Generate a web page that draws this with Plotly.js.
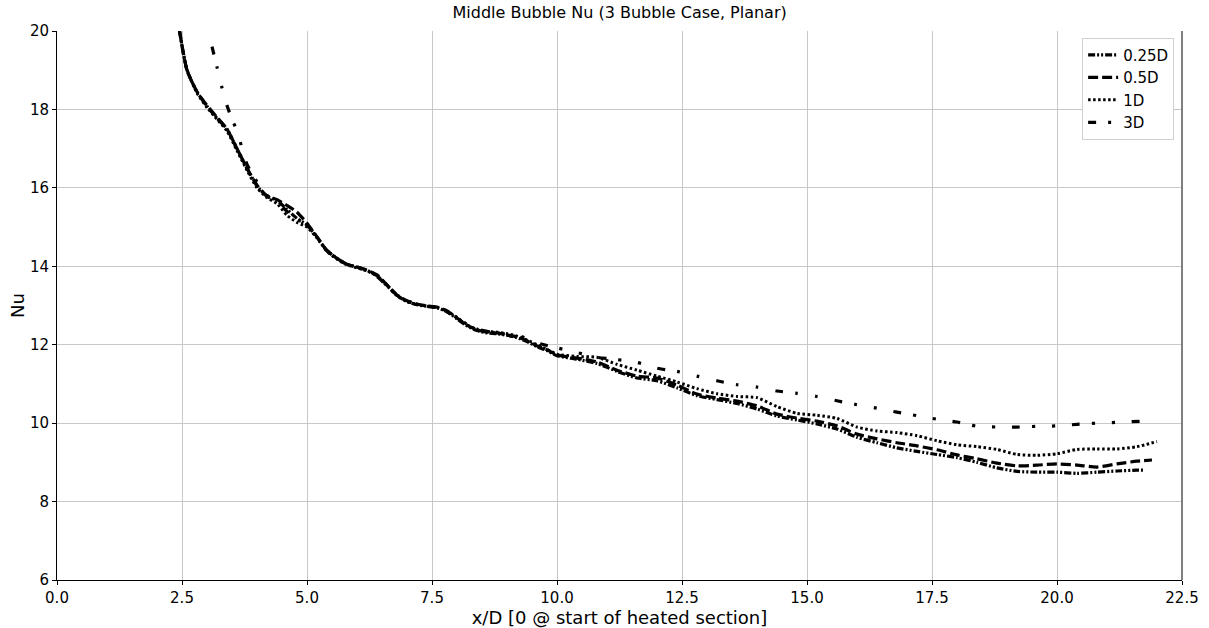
<!DOCTYPE html>
<html>
<head>
<meta charset="utf-8">
<script src="https://cdn.plot.ly/plotly-3.0.1.min.js"></script>
<style>html,body{margin:0;padding:0;background:#fff;}#chart{width:1209px;height:628px;}</style>
</head>
<body>
<div id="chart"></div>
<script>
// Shared x grid for the early part
const xEarly = [2.45,2.6,2.8,3.0,3.2,3.4,3.6,3.8,4.0,4.2,4.4,4.6,4.8,5.0,5.2,5.4,5.6,5.8,6.0,6.2,6.4,6.6,6.8,7.0,7.2,7.4,7.6,7.8,8.0,8.2,8.4,8.6,8.8,9.0,9.2,9.4,9.6,9.8];
const xLate = [10.0,10.4,10.8,11.2,11.6,12.0,12.4,12.8,13.2,13.6,14.0,14.4,14.8,15.2,15.6,16.0,16.4,16.8,17.2,17.6,18.0,18.4,18.8,19.2,19.6,20.0,20.4,20.8,21.2,21.6];

// 0.25D
const x025 = xEarly.concat(xLate, [21.75]);
const y025 = [20.0,19.0,18.45,18.08,17.78,17.5,17.0,16.5,16.05,15.78,15.68,15.45,15.22,15.05,14.74,14.4,14.2,14.05,13.98,13.9,13.76,13.52,13.26,13.1,13.02,12.98,12.95,12.84,12.66,12.48,12.36,12.3,12.28,12.24,12.18,12.08,11.95,11.85,
  11.72,11.63,11.52,11.32,11.15,11.08,10.9,10.7,10.6,10.5,10.36,10.18,10.08,9.98,9.85,9.64,9.5,9.37,9.28,9.2,9.12,9.0,8.86,8.77,8.75,8.75,8.72,8.75,8.78,8.8,8.8];

// 0.5D
const x05 = xEarly.concat(xLate, [21.9]);
const y05 = [20.0,19.0,18.45,18.1,17.8,17.5,17.0,16.5,16.07,15.8,15.7,15.55,15.38,15.1,14.75,14.4,14.2,14.05,13.98,13.9,13.78,13.52,13.27,13.12,13.04,12.99,12.96,12.86,12.68,12.5,12.38,12.32,12.3,12.25,12.2,12.1,11.97,11.87,
  11.74,11.66,11.56,11.35,11.2,11.15,10.97,10.74,10.64,10.56,10.44,10.23,10.13,10.05,9.93,9.72,9.6,9.5,9.42,9.32,9.19,9.09,8.98,8.91,8.93,8.96,8.93,8.88,8.96,9.03,9.06];

// 1D
const x1 = xEarly.concat(xLate, [22.0]);
const y1 = [20.0,19.02,18.42,18.05,17.75,17.45,16.95,16.45,16.0,15.75,15.6,15.3,15.12,15.0,14.72,14.38,14.18,14.04,13.96,13.88,13.75,13.5,13.25,13.1,13.03,12.98,12.94,12.85,12.7,12.5,12.4,12.34,12.32,12.28,12.22,12.12,12.0,11.88,
  11.76,11.7,11.68,11.5,11.35,11.2,11.05,10.88,10.75,10.68,10.65,10.42,10.25,10.2,10.12,9.9,9.8,9.76,9.68,9.55,9.45,9.4,9.33,9.2,9.18,9.22,9.33,9.34,9.34,9.4,9.53];

// 3D
const x3 = [3.1,3.2,3.3,3.4,3.5,3.6,3.8,4.0,4.2,4.4,4.6,4.8,5.0,5.2,5.4,5.6,5.8,6.0,6.2,6.4,6.6,6.8,7.0,7.2,7.4,7.6,7.8,8.0,8.2,8.4,8.6,8.8,9.0,9.2,9.4,9.6,9.8,
  10.0,10.4,10.8,11.2,11.6,12.0,12.4,12.8,13.2,13.6,14.0,14.4,14.8,15.2,15.6,16.0,16.4,16.8,17.2,17.6,18.0,18.4,18.8,19.2,19.6,20.0,20.4,20.8,21.2,21.7];
const y3 = [19.6,19.08,18.55,18.1,17.75,17.45,16.6,16.15,15.8,15.65,15.4,15.2,15.05,14.74,14.4,14.2,14.05,13.98,13.88,13.74,13.5,13.26,13.12,13.03,12.98,12.95,12.84,12.7,12.52,12.4,12.34,12.3,12.27,12.24,12.16,12.05,11.98,
  11.92,11.8,11.68,11.62,11.55,11.4,11.32,11.2,11.08,10.98,10.92,10.82,10.76,10.68,10.57,10.47,10.38,10.28,10.19,10.1,10.03,9.92,9.9,9.9,9.92,9.93,9.97,10.0,10.02,10.05];

const names = ['0.25D','0.5D','1D','3D'];
const xTicks = [0,2.5,5,7.5,10,12.5,15,17.5,20,22.5];
const xTickText = ['0.0','2.5','5.0','7.5','10.0','12.5','15.0','17.5','20.0','22.5'];
const yTicks = [6,8,10,12,14,16,18,20];

const font = 'DejaVu Sans, sans-serif';
const traces = [
  {x:x025, y:y025, name:names[0], mode:'lines', line:{color:'#000', width:3.2, dash:'7px,2px,2px,2px,2px,2px', shape:'spline', smoothing:0.6}},
  {x:x05, y:y05, name:names[1], mode:'lines', line:{color:'#000', width:3.2, dash:'10px,4px', shape:'spline', smoothing:0.6}},
  {x:x1, y:y1, name:names[2], mode:'lines', line:{color:'#000', width:3, dash:'2.5px,2.5px', shape:'spline', smoothing:0.6}},
  {x:x3, y:y3, name:names[3], mode:'lines', line:{color:'#000', width:3.2, dash:'8px,12px,3px,17px,3px,17px', shape:'spline', smoothing:0.6}}
];

const layout = {
  width:1209, height:628,
  margin:{l:57, r:27, t:31, b:48},
  paper_bgcolor:'#fff', plot_bgcolor:'#fff',
  font:{family:font, size:15, color:'#000'},
  title:{text:'Middle Bubble Nu (3 Bubble Case, Planar)', font:{family:font, size:16, color:'#000'}, x:0.5125, xanchor:'center', y:0.981, yanchor:'middle'},
  showlegend:true,
  legend:{x:0.993, xanchor:'right', y:0.988, yanchor:'top', bgcolor:'#fff', bordercolor:'#d0d0d0', borderwidth:1, font:{family:font, size:15, color:'#000'}, tracegroupgap:0, itemwidth:30},
  xaxis:{range:[0,22.5], tickvals:xTicks, ticktext:xTickText, showgrid:true, gridcolor:'#c8c8c8', gridwidth:1,
    showline:true, linecolor:'#000', linewidth:1, ticks:'outside', ticklen:4, tickcolor:'#000', zeroline:false,
    tickfont:{family:font, size:15, color:'#000'},
    title:{text:'x/D [0 @ start of heated section]', font:{family:font, size:18, color:'#000'}, standoff:2}},
  yaxis:{range:[6,20], tickvals:yTicks, showgrid:true, gridcolor:'#c8c8c8', gridwidth:1,
    showline:true, linecolor:'#000', linewidth:1, ticks:'outside', ticklen:4, tickcolor:'#000', zeroline:false,
    tickfont:{family:font, size:15, color:'#000'},
    title:{text:'Nu', font:{family:font, size:18, color:'#000'}, standoff:0}},
  shapes:[{type:'line', xref:'paper', yref:'paper', x0:1, x1:1, y0:0, y1:1, line:{color:'#808080', width:2}}]
};

Plotly.newPlot('chart', traces, layout, {displayModeBar:false, staticPlot:true});
</script>
</body>
</html>
